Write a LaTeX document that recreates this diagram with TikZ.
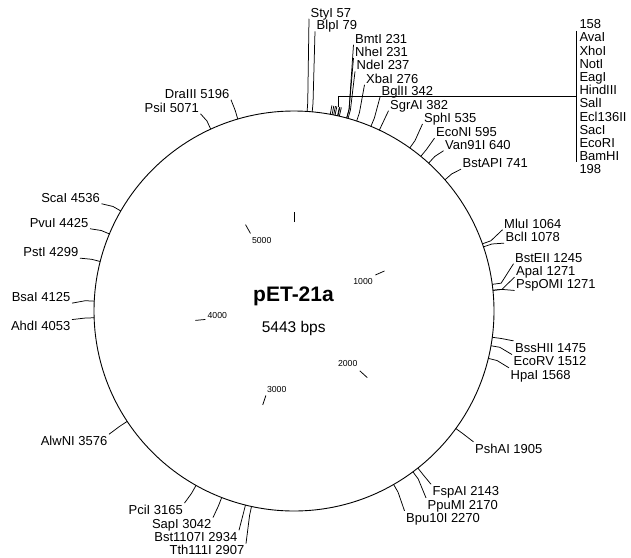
\documentclass[tikz,border=0pt]{standalone}
\usepackage{fontspec}
\setmainfont{Liberation Sans}
\usetikzlibrary{calc,positioning}
\definecolor{ink}{HTML}{000000}

\begin{document}
\begin{tikzpicture}[x=1pt,y=-1pt, lab/.style={font=\fontsize{13}{13.2}\selectfont,inner xsep=1.5pt,inner ysep=1.5pt,text height=9.5pt,text depth=0pt}, mcsname/.style={lab,inner xsep=3.3pt}, scal/.style={font=\fontsize{8.7}{10}\selectfont,inner sep=0pt}, lead/.style={line width=0.75pt,draw=ink}]
  \useasboundingbox (0,0) rectangle (631,557);
  \coordinate (ctr) at (294,311);
  \draw[ink,line width=0.9pt] (ctr) circle (200pt);
  \foreach \k in {0,...,5}{\pgfmathsetmacro\a{\k*1000/5443*360-90} \draw[lead] ($(ctr)+(\a:89)$) -- ($(ctr)+(\a:99)$);}
  \foreach \n/\x/\y in {1000/363/281.7,2000/347.7/363.3,3000/276.7/389,4000/217.3/315,5000/261.7/240.7}{\node[scal] (num\n) at (\x,\y) {\n};}
  \node[font=\bfseries\fontsize{21}{25}\selectfont,anchor=base] (title) at (293.5,301.5) {pET-21a};
  \node[font=\fontsize{15.5}{18}\selectfont,anchor=base] (size) at (293.7,332.2) {5443 bps};
  \foreach \bp/\txt/\lx/\ly/\pos/\cnr [count=\i] in {
    57/StyI 57/309/12.3/west/south west, 79/BlpI 79/315/25/west/south west,
    231/BmtI 231/353.5/38.3/west/south west, 231/NheI 231/353.5/51.7/west/south west,
    237/NdeI 237/355/65/west/south west, 276/XbaI 276/364.5/78.3/west/south west,
    342/BglII 342/380/90.7/west/south west, 382/SgrAI 382/388.5/104.3/west/south west,
    535/SphI 535/422.5/117.5/west/south west, 595/EcoNI 595/434.5/131.7/west/south west,
    640/Van91I 640/443.5/144.3/west/south west, 741/BstAPI 741/461/162.7/west/south west,
    1064/MluI 1064/502.5/223.3/west/south west, 1078/BclI 1078/504/236.7/west/south west,
    1245/BstEII 1245/513.5/257.3/west/south west, 1271/ApaI 1271/514.5/270.7/west/south west,
    1271/PspOMI 1271/514.5/284/west/south west, 1475/BssHII 1475/513.5/347.3/west/north west,
    1512/EcoRV 1512/512/361/west/north west, 1568/HpaI 1568/509/374.3/west/north west,
    1905/PshAI 1905/473.5/448.3/west/north west, 2143/FspAI 2143/431/490.7/west/north west,
    2170/PpuMI 2170/426/504.3/west/north west, 2270/Bpu10I 2270/404.5/517.3/west/north west,
    2907/Tth111I 2907/246/550/east/north east, 2934/Bst1107I 2934/239/536.7/east/north east,
    3042/SapI 3042/213/524/east/north east, 3165/PciI 3165/184.5/509.5/east/north east,
    3576/AlwNI 3576/109/440.7/east/north east, 4053/AhdI 4053/72/326/east/north east,
    4125/BsaI 4125/72/296.7/east/south east, 4299/PstI 4299/80/251.7/east/south east,
    4425/PvuI 4425/90/222.3/east/south east, 4536/ScaI 4536/101.5/197.3/east/south east,
    5071/PsiI 5071/200.5/107.3/east/south east, 5196/DraIII 5196/231/93.3/east/south east}{
    \pgfmathsetmacro\a{\bp/5443*360-90}
    \coordinate (cut\i) at ($(ctr)+(\a:200)$);
    \coordinate (stub\i) at ($(ctr)+(\a:209)$);
    \node[lab,anchor=\pos] (site\i) at (\lx,\ly) {\txt};
    \draw[lead] (cut\i) -- (stub\i) -- (site\i.\cnr);
  }
  \foreach \t [count=\k] in {158,AvaI,XhoI,NotI,EagI,HindIII,SalI,Ecl136II,SacI,EcoRI,BamHI,198}{\node[mcsname,anchor=west] (mcs\k) at (576,{24+13.2*(\k-1)}) {\t};}
  \draw[lead] (mcs2.north west) -- (mcs11.south west);
  \foreach \bp in {158,166,173,179,190,192,198}{\pgfmathsetmacro\a{\bp/5443*360-90} \draw[lead] ($(ctr)+(\a:200)$) -- ($(ctr)+(\a:209)$);}
  \coordinate (mcsfoot) at ($(ctr)+({185/5443*360-90}:209)$);
  \draw[lead] (mcsfoot) |- (mcs6.south west);
\end{tikzpicture}
\end{document}
